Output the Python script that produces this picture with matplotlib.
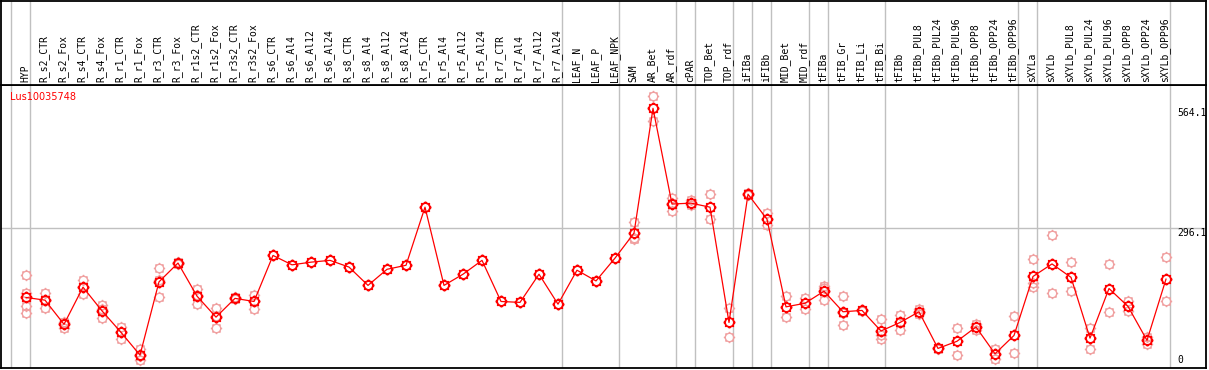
import numpy as np
import matplotlib
matplotlib.use("Agg")
import matplotlib.pyplot as plt
import matplotlib.path as mpath

# sample names (x categories)
samples = [
    "HYP", "R_s2_CTR", "R_s2_Fox", "R_s4_CTR", "R_s4_Fox", "R_r1_CTR", "R_r1_Fox",
    "R_r3_CTR", "R_r3_Fox", "R_r1s2_CTR", "R_r1s2_Fox", "R_r3s2_CTR", "R_r3s2_Fox",
    "R_s6_CTR", "R_s6_Al4", "R_s6_Al12", "R_s6_Al24", "R_s8_CTR", "R_s8_Al4",
    "R_s8_Al12", "R_s8_Al24", "R_r5_CTR", "R_r5_Al4", "R_r5_Al12", "R_r5_Al24",
    "R_r7_CTR", "R_r7_Al4", "R_r7_Al12", "R_r7_Al24", "LEAF_N", "LEAF_P", "LEAF_NPK",
    "SAM", "AR_Bet", "AR_rdf", "cPAR", "TOP_Bet", "TOP_rdf", "iFIBa", "iFIBb",
    "MID_Bet", "MID_rdf", "tFIBa", "tFIB_Gr", "tFIB_Li", "tFIB_Bi", "tFIBb",
    "tFIBb_PUL8", "tFIBb_PUL24", "tFIBb_PUL96", "tFIBb_OPP8", "tFIBb_OPP24",
    "tFIBb_OPP96", "sXYLa", "sXYLb", "sXYLb_PUL8", "sXYLb_PUL24", "sXYLb_PUL96",
    "sXYLb_OPP8", "sXYLb_OPP24", "sXYLb_OPP96",
]

# mean expression per sample
means = [
    141, 135, 81, 164, 111, 63, 12, 176, 218, 144, 97, 139, 132,
    235, 214, 220, 224, 209, 168, 204, 213, 343, 168, 193, 224,
    132, 130, 193, 126, 202, 178, 229,
    285, 564.1, 350, 352, 343, 85, 372, 316, 120, 128,
    155, 109, 112, 66, 85, 109, 27, 43, 75, 15, 56,
    188, 216, 186, 50, 161, 121, 45, 182,
]

# replicate values per sample
replicates = [
    [191, 152, 122, 106], [150, 135, 118], [83, 73, 87], [179, 148, 164],
    [124, 94, 115], [76, 49, 64], [25, 0, 11], [208, 141, 179], [215, 218, 221],
    [159, 126, 147], [118, 73, 100], [139, 137, 141], [147, 116, 133],
    [235], [214], [220], [224], [209], [168], [204], [213], [343], [168],
    [193], [224], [132], [130], [193], [126], [202], [178], [229],
    [310, 271, 275], [592, 536], [363, 334, 352], [359, 347], [372, 316],
    [117, 53], [374, 370], [329, 303], [144, 97], [140, 115],
    [167, 135, 163], [144, 79, 106], [113, 111], [93, 57, 48], [101, 68],
    [115, 104], [29, 25], [72, 12], [82, 68], [26, 3], [99, 16],
    [226, 174, 165], [280, 150], [220, 155], [73, 26], [215, 108],
    [132, 111], [53, 37], [231, 132],
]

# group separators (after these sample indices)
group_ends = [-1, 0, 28, 31, 34, 35, 37, 38, 39, 41, 42, 45, 52, 53, 60]

gene = "Lus10035748"
y_labels = [564.1, 296.1, 0]
grid_value = 296.1

# marker: open circle with small ticks around it
ang = np.deg2rad(np.arange(0, 360, 45))
tv, tc = [], []
for a in ang:
    tv += [(np.cos(a), np.sin(a)), (1.35 * np.cos(a), 1.35 * np.sin(a))]
    tc += [mpath.Path.MOVETO, mpath.Path.LINETO]
gear = mpath.Path.make_compound_path(mpath.Path.unit_circle(), mpath.Path(tv, tc))

W, H = 1209, 370
fig = plt.figure(figsize=(W / 100, H / 100), dpi=100)
fig.patch.set_facecolor("white")

left, right = 1 / W, 1206 / W
ax = fig.add_axes([left, (H - 368) / H, right - left, (368 - 85) / H])
axh = fig.add_axes([left, (H - 85) / H, right - left, 84.5 / H])

xlim = (-25 / 19.0, 1180 / 19.0)
for a in (ax, axh):
    a.set_xlim(*xlim)
    a.set_xticks([])
    a.set_yticks([])
    for s in a.spines.values():
        s.set_color("black")
        s.set_linewidth(1.3)
    for g in group_ends:
        a.axvline(g + 0.23, color="#c0c0c0", lw=1.0, zorder=0)

ax.set_ylim(-16.8, 616.3)
axh.set_ylim(0, 1)

x = np.arange(len(samples))
ax.axhline(grid_value, color="#c0c0c0", lw=1.0, zorder=0)

# replicates
for i, reps in enumerate(replicates):
    ax.plot([i] * len(reps), reps, linestyle="none", marker=gear, markersize=8.2,
            markerfacecolor="none", markeredgecolor="#f0a0a0", markeredgewidth=1.0,
            zorder=2)

# means
ax.plot(x, means, color="red", lw=0.9, zorder=3)
ax.plot(x, means, linestyle="none", marker=gear, markersize=8.6,
        markerfacecolor="none", markeredgecolor="red", markeredgewidth=1.3, zorder=4)

# header labels
for i, name in enumerate(samples):
    axh.text(i - 0.05, 0.03, name, rotation=90, ha="center", va="bottom",
             family="DejaVu Sans Mono", fontsize=7, color="black")

ax.text(9 / 1205, 1 - 12 / 283, gene, transform=ax.transAxes,
        color="red", fontsize=7, ha="left", va="center", zorder=5)

for v in y_labels:
    ax.text(60.6, v, f"{v:g}", ha="left", va="top" if v > 0 else "center",
            family="DejaVu Sans Mono", fontsize=7, color="black")

fig.savefig("out.png", dpi=100, facecolor="white")
